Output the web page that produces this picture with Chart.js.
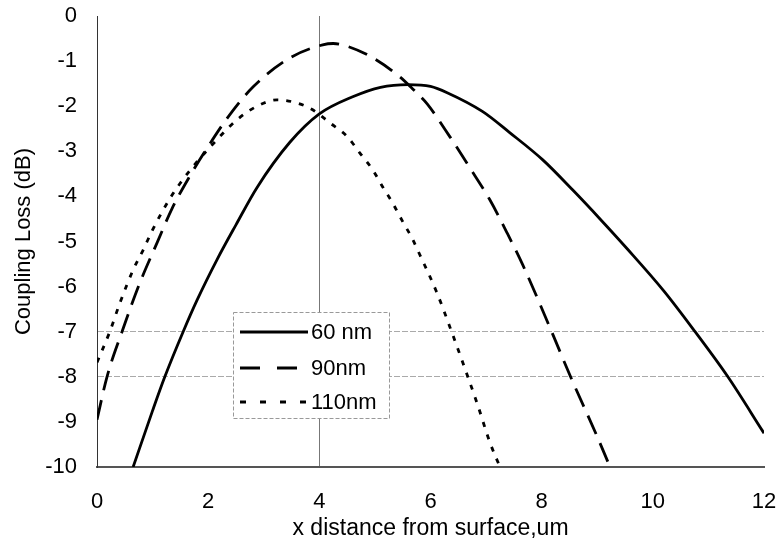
<!DOCTYPE html>
<html>
<head>
<meta charset="utf-8">
<script src="https://cdn.jsdelivr.net/npm/chart.js@4.4.1/dist/chart.umd.min.js"></script>
<style>
  body { margin: 0; background: #fff; }
  canvas { display: block; }
</style>
</head>
<body>
<canvas id="chartcanvas" width="782" height="546"></canvas>
<script>
// Series labels
var seriesNames = ['60 nm', '90nm', '110nm'];

// 60 nm : distance (um) / coupling loss (dB)
var x60 = [0.65, 1.0, 1.22, 1.55, 1.8, 2.16, 2.5, 2.88, 3.47, 4.0, 4.6, 5.1, 5.6, 6.0, 6.3, 6.94, 7.43, 8.02, 8.56, 9.05, 9.53, 10.2, 10.76, 11.35, 12.0];
var y60 = [-10, -8.75, -8.0, -7.0, -6.3, -5.4, -4.63, -3.8, -2.8, -2.17, -1.79, -1.58, -1.52, -1.56, -1.7, -2.12, -2.59, -3.19, -3.86, -4.5, -5.15, -6.1, -7.0, -8.0, -9.25];

// 90 nm
var x90 = [0, 0.18, 0.45, 0.77, 1.08, 1.35, 1.67, 1.98, 2.34, 2.81, 3.47, 4.06, 4.25, 4.42, 4.91, 5.45, 5.69, 5.94, 6.35, 6.71, 7.07, 7.37, 7.66, 8.18, 8.52, 8.99, 9.23];
var y90 = [-8.95, -8.0, -7.0, -5.92, -5.03, -4.27, -3.55, -2.93, -2.27, -1.57, -0.93, -0.64, -0.61, -0.64, -0.89, -1.35, -1.63, -1.95, -2.68, -3.37, -4.08, -4.79, -5.52, -7.0, -8.0, -9.3, -10];

// 110 nm
var x110 = [0, 0.23, 0.41, 0.65, 0.83, 1.0, 1.31, 1.49, 1.8, 1.98, 2.52, 2.88, 3.24, 3.6, 3.88, 4.19, 4.5, 4.73, 4.96, 5.14, 5.32, 5.5, 5.67, 5.81, 6.11, 6.38, 6.62, 6.85, 7.07, 7.25];
var y110 = [-7.68, -7.0, -6.37, -5.63, -5.19, -4.74, -4.05, -3.72, -3.23, -2.98, -2.3, -2.0, -1.86, -1.93, -2.08, -2.37, -2.67, -3.04, -3.41, -3.79, -4.15, -4.56, -4.93, -5.3, -6.12, -7.0, -7.82, -8.63, -9.46, -10];

// Axis ticks
var xTicks = [0, 2, 4, 6, 8, 10, 12];
var yTicks = [0, -1, -2, -3, -4, -5, -6, -7, -8, -9, -10];

// Only these grid lines are shown
var yGridShown = [-7, -8];
var xGridShown = [4];

const FONT = 'Liberation Sans, Arial, sans-serif';
const LINE_W = 2.8;

function toPoints(xs, ys)
{
	var pts = [];
	for (var i = 0; i < xs.length; i++)
	{
		pts.push({ x: xs[i], y: ys[i] });
	}
	return pts;
}

// Dash patterns of each curve (plot, legend)
var dashes = [[], [20, 10], [5, 8]];
var legendDashes = [[], [20, 17], [6, 14]];

function makeDataset(i, xs, ys)
{
	return {
		label: seriesNames[i],
		data: toPoints(xs, ys),
		borderColor: '#000',
		borderWidth: LINE_W,
		borderDash: dashes[i],
		borderCapStyle: 'butt',
		pointRadius: 0,
		fill: false,
		cubicInterpolationMode: 'monotone'
	};
}

// Legend box drawn inside the plot
var legendBox =
{
	id: 'legendBox',
	afterDraw: function(chart)
	{
		var c = chart.ctx;
		var left = 233, top = 312, w = 156, h = 106;
		c.save();
		c.fillStyle = '#fff';
		c.fillRect(left, top, w, h);
		c.strokeStyle = '#999';
		c.lineWidth = 1;
		c.setLineDash([4, 2]);
		c.strokeRect(left + 0.5, top + 0.5, w, h);

		var rows = [332, 368, 402];
		for (var i = 0; i < seriesNames.length; i++)
		{
			c.beginPath();
			c.setLineDash(legendDashes[i]);
			c.strokeStyle = '#000';
			c.lineWidth = LINE_W;
			c.moveTo(240, rows[i]);
			c.lineTo(308, rows[i]);
			c.stroke();
			c.setLineDash([]);
			c.fillStyle = '#000';
			c.font = '22px ' + FONT;
			c.textAlign = 'left';
			c.textBaseline = 'middle';
			c.fillText(seriesNames[i], 311, rows[i] + 1);
		}
		c.restore();
	}
};

var chartCanvas = document.getElementById('chartcanvas');

var lossChart = new Chart(chartCanvas,
{
	type: 'line',
	data:
	{
		datasets: [
			makeDataset(0, x60, y60),
			makeDataset(1, x90, y90),
			makeDataset(2, x110, y110)
		]
	},
	options:
	{
		responsive: false,
		animation: false,
		layout: { padding: { left: 0, right: 18, top: 16, bottom: 0 } },
		plugins:
		{
			legend: { display: false },
			tooltip: { enabled: false }
		},
		scales:
		{
			x:
			{
				type: 'linear',
				min: 0,
				max: 12,
				afterBuildTicks: function(scale)
				{
					scale.ticks = xTicks.map(function(v) { return { value: v }; });
				},
				ticks: { color: '#000', padding: 22, font: { family: FONT, size: 22 } },
				grid:
				{
					drawTicks: false,
					lineWidth: 1,
					color: function(ctx)
					{
						return (ctx.tick && xGridShown.indexOf(ctx.tick.value) >= 0) ? '#777' : 'rgba(0,0,0,0)';
					}
				},
				border: { display: true, color: '#555', width: 2 },
				title:
				{
					display: true,
					text: 'x distance from surface,um',
					color: '#000',
					font: { family: FONT, size: 23 },
					padding: { top: 0, bottom: 4 }
				},
				afterFit: function(scale)
				{
					scale.height = 79;
					scale.paddingLeft = 0;
					scale.paddingRight = 0;
				}
			},
			y:
			{
				type: 'linear',
				min: -10,
				max: 0,
				afterBuildTicks: function(scale)
				{
					scale.ticks = yTicks.map(function(v) { return { value: v }; });
				},
				ticks: { color: '#000', padding: 20, font: { family: FONT, size: 22 } },
				grid:
				{
					drawTicks: false,
					lineWidth: 1,
					color: function(ctx)
					{
						return (ctx.tick && yGridShown.indexOf(ctx.tick.value) >= 0) ? '#aaa' : 'rgba(0,0,0,0)';
					}
				},
				border: { display: true, color: '#333', width: 1, dash: [6, 2] },
				title:
				{
					display: true,
					text: 'Coupling Loss (dB)',
					color: '#000',
					font: { family: FONT, size: 22 },
					padding: { top: 11, bottom: 0 }
				},
				afterFit: function(scale)
				{
					scale.width = 97;
					scale.paddingTop = 0;
					scale.paddingBottom = 0;
				}
			}
		}
	},
	plugins: [legendBox]
});
</script>
</body>
</html>
